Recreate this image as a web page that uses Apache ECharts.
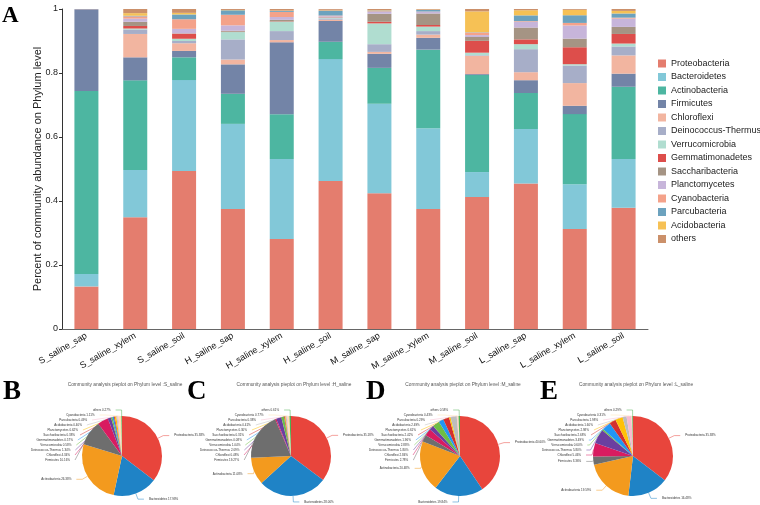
<!DOCTYPE html>
<html>
<head>
<meta charset="utf-8">
<script src="https://cdn.jsdelivr.net/npm/echarts@6/dist/echarts.min.js"></script>
<style>html,body{margin:0;padding:0;background:#fff;}#c{width:760px;height:505px;}</style>
</head>
<body>
<div id="c"></div>
<script>
const categories = ['S_saline_sap','S_saline_xylem','S_saline_soil','H_saline_sap','H_saline_xylem','H_saline_soil','M_saline_sap','M_saline_xylem','M_saline_soil','L_saline_sap','L_saline_xylem','L_saline_soil'];
const phyla = ['Proteobacteria','Bacteroidetes','Actinobacteria','Firmicutes','Chloroflexi','Deinococcus-Thermus','Verrucomicrobia','Gemmatimonadetes','Saccharibacteria','Planctomycetes','Cyanobacteria','Parcubacteria','Acidobacteria','others'];
const yTicks = [0, 0.2, 0.4, 0.6, 0.8, 1];

const proteobacteria   = [0.133, 0.349, 0.494, 0.375, 0.281, 0.4625, 0.424, 0.375, 0.4125, 0.455, 0.3125, 0.379];
const bacteroidetes    = [0.039, 0.148, 0.284, 0.266, 0.250, 0.381, 0.280, 0.252, 0.078, 0.170, 0.140, 0.152];
const actinobacteria   = [0.572, 0.280, 0.071, 0.094, 0.140, 0.054, 0.112, 0.246, 0.303, 0.1125, 0.219, 0.226];
const firmicutes       = [0.255, 0.072, 0.020, 0.092, 0.225, 0.065, 0.044, 0.037, 0.003, 0.040, 0.026, 0.041];
const chloroflexi      = [0.0003, 0.073, 0.024, 0.015, 0.007, 0.004, 0.006, 0.010, 0.057, 0.025, 0.071, 0.057];
const deinococcus      = [0.0002, 0.014, 0.007, 0.063, 0.028, 0.004, 0.024, 0.011, 0.002, 0.072, 0.055, 0.028];
const verrucomicrobia  = [0.0001, 0.003, 0.007, 0.023, 0.029, 0.002, 0.065, 0.014, 0.008, 0.0156, 0.004, 0.009];
const gemmatimonadetes = [0.0001, 0.008, 0.016, 0.001, 0.001, 0.001, 0.005, 0.005, 0.037, 0.015, 0.053, 0.030];
const saccharibacteria = [0.0001, 0.013, 0.001, 0.003, 0.005, 0.001, 0.025, 0.036, 0.012, 0.037, 0.027, 0.022];
const planctomycetes   = [0.0001, 0.010, 0.014, 0.017, 0.009, 0.003, 0.006, 0.005, 0.006, 0.018, 0.041, 0.026];
const cyanobacteria    = [0.0001, 0.007, 0.030, 0.033, 0.016, 0.002, 0.002, 0.001, 0.008, 0.002, 0.008, 0.003];
const parcubacteria    = [0.0001, 0.002, 0.015, 0.014, 0.003, 0.015, 0.002, 0.005, 0.001, 0.018, 0.024, 0.013];
const acidobacteria    = [0.0001, 0.008, 0.005, 0.001, 0.001, 0.001, 0.001, 0.001, 0.065, 0.016, 0.017, 0.008];
const others           = [0.0005, 0.013, 0.012, 0.003, 0.005, 0.004, 0.004, 0.002, 0.008, 0.004, 0.003, 0.006];

const barValues = [proteobacteria, bacteroidetes, actinobacteria, firmicutes, chloroflexi, deinococcus, verrucomicrobia, gemmatimonadetes, saccharibacteria, planctomycetes, cyanobacteria, parcubacteria, acidobacteria, others];
const barColors = ['#E47D6E','#82C8D8','#4DB6A1','#7384A7','#F2B5A0','#A7AEC8','#B0DDD0','#DD4E4B','#A59484','#C7B5DA','#F4A28A','#6CA2BE','#F6C155','#CB906A'];

// pie charts (percent)
const pieGroups = ['S_saline','H_saline','M_saline','L_saline'];
const pieLetters = ['B','C','D','E'];
const pieOrder = ['Proteobacteria','Bacteroidetes','Actinobacteria','Firmicutes','Chloroflexi','Deinococcus-Thermus','Verrucomicrobia','Gemmatimonadetes','Saccharibacteria','Planctomycetes','Acidobacteria','Parcubacteria','Cyanobacteria','others'];
const pieS = [35.38, 17.98, 26.38, 10.16, 4.34, 1.34, 0.58, 0.57, 0.38, 0.62, 0.40, 0.49, 1.11, 0.27];
const pieH = [35.18, 28.00, 11.08, 19.27, 0.48, 2.09, 1.04, 0.08, 0.31, 0.30, 0.41, 0.38, 0.77, 0.61];
const pieM = [40.60, 19.84, 20.48, 2.78, 2.84, 1.80, 2.88, 1.96, 2.42, 0.61, 2.49, 0.29, 0.43, 0.58];
const pieL = [35.38, 16.48, 19.59, 3.36, 5.46, 5.80, 0.60, 3.49, 2.68, 2.98, 1.60, 1.98, 0.31, 0.29];
const pieValues = [pieS, pieH, pieM, pieL];
const pieColors = ['#E8453C','#1F83C6','#F39A1E','#6E6E6E','#D81B60','#6B3FA0','#6DBE45','#2196F3','#D32F2F','#FFC107','#BDBDBD','#F8BBD0','#FFE0B2','#4CAF50'];

const pieCenters = [[122,456],[291,456],[460,456],[633,456]];
const letterPos = [[-2,374],[182,374],[361,374],[535,374]];

const chart = echarts.init(document.getElementById('c'), null, {renderer:'canvas'});

const series = barValues.map((vals, i) => ({
  name: phyla[i],
  type: 'bar',
  stack: 'total',
  barWidth: 24,
  data: vals,
  itemStyle: {color: barColors[i]},
  emphasis: {disabled: true}
}));

pieValues.forEach((vals, g) => {
  series.push({
    type: 'pie',
    name: pieGroups[g],
    center: pieCenters[g],
    radius: 40,
    startAngle: 90,
    clockwise: true,
    avoidLabelOverlap: true,
    data: vals.map((v, k) => ({name: pieOrder[k], value: v, itemStyle: {color: pieColors[k]}})),
    label: {
      show: true,
      fontSize: 3,
      fontFamily: 'Liberation Sans',
      color: '#333',
      padding: [1, 0],
      formatter: p => p.name + ' ' + p.value.toFixed(2) + '%'
    },
    labelLine: {show: true, length: 6, length2: 6, lineStyle: {width: 0.5}},
    emphasis: {disabled: true}
  });
});

const titles = [{
  text: 'A', left: -3, top: 0,
  textStyle: {fontFamily: 'Liberation Serif', fontWeight: 'bold', fontSize: 23, color: '#000'}
}];
pieGroups.forEach((g, i) => {
  titles.push({
    text: pieLetters[i], left: letterPos[i][0], top: letterPos[i][1],
    textStyle: {fontFamily: 'Liberation Serif', fontWeight: 'bold', fontSize: 27, color: '#000'}
  });
  titles.push({
    text: 'Community analysis pieplot on Phylum level :' + g,
    left: pieCenters[i][0] - 2, top: 377, textAlign: 'center',
    textStyle: {fontFamily: 'Liberation Sans', fontWeight: 'normal', fontSize: 4.8, color: '#555'}
  });
});

chart.setOption({
  animation: false,
  title: titles,
  grid: {left: 62, right: 112, top: 9, bottom: 176, containLabel: false},
  legend: {
    data: phyla,
    orient: 'vertical',
    left: 653,
    top: 54,
    itemWidth: 8,
    itemHeight: 8,
    itemGap: 4.5,
    icon: 'rect',
    selectedMode: false,
    textStyle: {fontFamily: 'Liberation Sans', fontSize: 9, color: '#222', lineHeight: 9}
  },
  xAxis: {
    type: 'category',
    data: categories,
    axisLine: {lineStyle: {color: '#666', width: 1}},
    axisTick: {alignWithLabel: true, length: 4, lineStyle: {color: '#666'}},
    axisLabel: {rotate: 30, fontSize: 9, color: '#111', margin: 6, fontFamily: 'Liberation Sans', interval: 0}
  },
  yAxis: {
    type: 'value',
    min: yTicks[0],
    max: yTicks[yTicks.length - 1],
    interval: 0.2,
    name: 'Percent of community abundance on Phylum level',
    nameLocation: 'middle',
    nameGap: 19,
    nameMoveOverlap: false,
    nameTextStyle: {fontFamily: 'Liberation Sans', fontSize: 11, color: '#222'},
    axisLine: {show: true, lineStyle: {color: '#333', width: 1}},
    axisTick: {show: true, length: 3, lineStyle: {color: '#333'}},
    axisLabel: {fontSize: 9, color: '#222', margin: 4, fontFamily: 'Liberation Sans'},
    splitLine: {show: false}
  },
  series: series
});
</script>
</body>
</html>
